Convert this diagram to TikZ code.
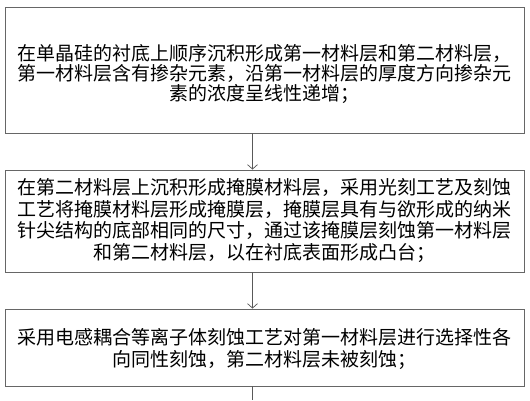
\documentclass[tikz,border=0pt]{standalone}
\usepackage{fontspec}
\newfontfamily\cjk{Noto Sans CJK SC}
\usetikzlibrary{arrows.meta}
\begin{document}
\begin{tikzpicture}[x=1pt,y=-1pt,
  box/.style={draw=black!60,line width=0.9pt,minimum width=518.6pt,inner sep=0pt},
  txt/.style={align=center,inner sep=0pt,text=black,font=\cjk\fontsize{19}{21}\selectfont},
  arr/.style={draw=black!65,line width=0.7pt,-{Straight Barb[length=4.5pt,width=10pt,line width=0.7pt]}},
  conn/.style={draw=black!65,line width=0.7pt}]
\useasboundingbox (0,0) rectangle (530,400);
\fill[white] (0,0) rectangle (530,400);
\coordinate (ax) at (252.5,0);
\coordinate (bottom) at (252.5,400);
\node[box,minimum height=126pt] (b1) at (264.7,70) {};
\node[txt,font=\cjk\fontsize{19}{20.2}\selectfont] (t1) at (264.7,74) {在单晶硅的衬底上顺序沉积形成第一材料层和第二材料层，\\第一材料层含有掺杂元素，沿第一材料层的厚度方向掺杂元\\素的浓度呈线性递增；};
\node[box,minimum height=102pt] (b2) at (264.7,221) {};
\node[txt,font=\cjk\fontsize{19}{21.5}\selectfont] (t2) at (264.7,220.5) {在第二材料层上沉积形成掩膜材料层，采用光刻工艺及刻蚀\\工艺将掩膜材料层形成掩膜层，掩膜层具有与欲形成的纳米\\针尖结构的底部相同的尺寸，通过该掩膜层刻蚀第一材料层\\和第二材料层，以在衬底表面形成凸台；};
\node[box,minimum height=77pt] (b3) at (264.7,347.5) {};
\node[txt,font=\cjk\fontsize{19}{22}\selectfont] (t3) at (264.7,349) {采用电感耦合等离子体刻蚀工艺对第一材料层进行选择性各\\向同性刻蚀，第二材料层未被刻蚀；};
\draw[arr] (b1.south -| ax) -- (b2.north -| ax);
\draw[arr] (b2.south -| ax) -- (b3.north -| ax);
\draw[conn] (b3.south -| ax) -- (bottom);
\end{tikzpicture}
\end{document}
